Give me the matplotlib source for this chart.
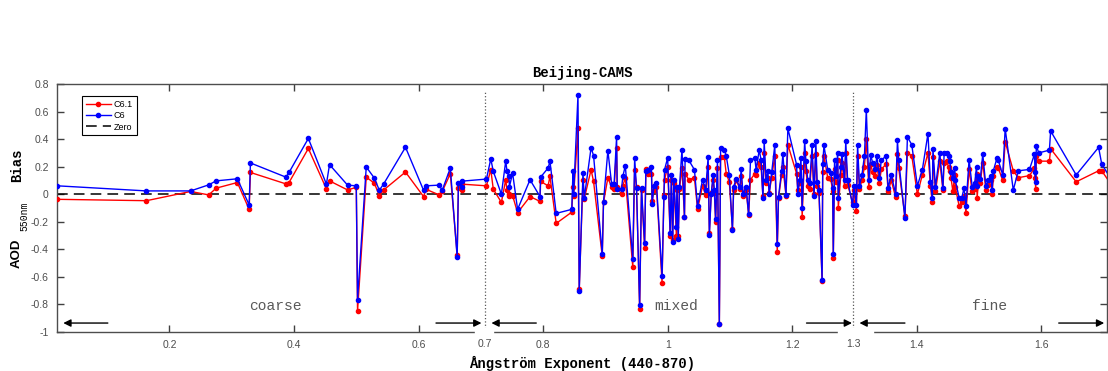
import numpy as np
import matplotlib
matplotlib.use("Agg")
import matplotlib.pyplot as plt
from matplotlib.patches import Rectangle

# Angstrom exponent (440-870) and AOD 550nm bias
ae = [0.020, 0.163, 0.234, 0.263, 0.275, 0.309, 0.328, 0.330, 0.387, 0.392,
      0.423, 0.452, 0.457, 0.486, 0.500, 0.502, 0.516, 0.529, 0.537, 0.544,
      0.579, 0.608, 0.612, 0.633, 0.638, 0.651, 0.662, 0.664, 0.669, 0.670,
      0.709, 0.716, 0.720, 0.733, 0.740, 0.742, 0.745, 0.746, 0.751, 0.759,
      0.779, 0.795, 0.796, 0.808, 0.811, 0.821, 0.846, 0.848, 0.849, 0.856,
      0.858, 0.864, 0.866, 0.877, 0.881, 0.895, 0.897, 0.904, 0.910, 0.914,
      0.918, 0.919, 0.926, 0.928, 0.932, 0.944, 0.947, 0.950, 0.955, 0.958,
      0.963, 0.965, 0.969, 0.974, 0.975, 0.978, 0.982, 0.991, 0.994, 0.995,
      1.000, 1.004, 1.006, 1.008, 1.010, 1.014, 1.015, 1.017, 1.019, 1.023,
      1.027, 1.028, 1.034, 1.043, 1.048, 1.056, 1.061, 1.065, 1.067, 1.070,
      1.073, 1.075, 1.077, 1.080, 1.083, 1.085, 1.091, 1.094, 1.099, 1.104,
      1.106, 1.110, 1.116, 1.118, 1.121, 1.126, 1.130, 1.133, 1.140, 1.142,
      1.147, 1.150, 1.153, 1.155, 1.158, 1.161, 1.163, 1.167, 1.172, 1.176,
      1.178, 1.183, 1.185, 1.190, 1.193, 1.207, 1.209, 1.212, 1.214, 1.216,
      1.220, 1.222, 1.225, 1.228, 1.232, 1.235, 1.238, 1.240, 1.243, 1.248,
      1.249, 1.251, 1.257, 1.262, 1.265, 1.266, 1.268, 1.270, 1.273, 1.274,
      1.278, 1.280, 1.284, 1.286, 1.289, 1.297, 1.299, 1.303, 1.305, 1.308,
      1.312, 1.316, 1.319, 1.323, 1.326, 1.329, 1.333, 1.336, 1.340, 1.343,
      1.351, 1.354, 1.359, 1.366, 1.369, 1.371, 1.381, 1.385, 1.392, 1.401,
      1.409, 1.418, 1.422, 1.425, 1.426, 1.430, 1.437, 1.442, 1.444, 1.448,
      1.451, 1.453, 1.455, 1.458, 1.461, 1.462, 1.468, 1.472, 1.476, 1.479,
      1.484, 1.489, 1.493, 1.496, 1.497, 1.499, 1.502, 1.506, 1.511, 1.515,
      1.519, 1.521, 1.523, 1.529, 1.531, 1.538, 1.542, 1.555, 1.563, 1.581,
      1.589, 1.590, 1.591, 1.592, 1.596, 1.613, 1.615, 1.656, 1.692, 1.697,
      1.720]

bias_c6 = [0.061, 0.024, 0.024, 0.068, 0.097, 0.112, -0.078, 0.227, 0.124, 0.158,
           0.405, 0.073, 0.215, 0.066, 0.061, -0.765, 0.198, 0.117, 0.029, 0.075,
           0.341, 0.029, 0.061, 0.066, 0.029, 0.190, -0.457, 0.080, 0.056, 0.095,
           0.110, 0.256, 0.166, 0.000, 0.242, 0.166, 0.129, 0.056, 0.154, -0.110,
           0.105, -0.017, 0.124, 0.190, 0.239, -0.139, -0.110, 0.166, 0.000, 0.720,
           -0.701, 0.154, -0.030, 0.337, 0.281, -0.432, -0.054, 0.317, 0.075, 0.075,
           0.415, 0.039, 0.039, 0.129, 0.207, -0.469, 0.264, 0.044, -0.806, 0.044,
           -0.354, 0.166, 0.178, 0.198, -0.073, 0.061, 0.080, -0.591, -0.017, 0.178,
           0.264, -0.281, 0.141, -0.347, 0.105, -0.237, 0.056, -0.322, 0.056, 0.324,
           -0.164, 0.259, 0.246, 0.178, -0.086, 0.105, 0.031, 0.270, -0.298, 0.005,
           0.141, 0.030, -0.183, 0.246, -0.945, 0.337, 0.324, 0.280, 0.141, -0.262,
           0.056, 0.110, 0.050, 0.183, 0.005, 0.050, -0.146, 0.246, 0.264, 0.178,
           0.320, 0.250, -0.030, 0.385, 0.105, 0.166, 0.000, 0.160, 0.354, -0.359,
           -0.017, 0.170, 0.290, -0.005, 0.478, 0.215, 0.005, 0.100, 0.264, -0.098,
           0.385, 0.240, 0.100, 0.080, 0.354, -0.010, 0.385, 0.090, 0.030, -0.623,
           0.220, 0.354, 0.178, 0.154, 0.044, -0.432, 0.250, 0.130, 0.300, -0.030,
           0.200, 0.290, 0.100, 0.385, 0.100, -0.080, 0.060, -0.080, 0.360, 0.060,
           0.140, 0.280, 0.612, 0.100, 0.285, 0.230, 0.180, 0.275, 0.120, 0.245,
           0.280, 0.044, 0.140, 0.005, 0.390, 0.245, -0.176, 0.415, 0.360, 0.060,
           0.178, 0.440, 0.090, -0.030, 0.330, 0.050, 0.300, 0.044, 0.300, 0.300,
           0.280, 0.240, 0.160, 0.120, 0.190, 0.100, -0.025, -0.030, 0.044, -0.088,
           0.250, 0.056, 0.080, 0.200, 0.060, 0.130, 0.110, 0.290, 0.060, 0.100,
           0.130, 0.030, 0.170, 0.265, 0.245, 0.140, 0.476, 0.030, 0.170, 0.180,
           0.290, 0.160, 0.090, 0.350, 0.300, 0.320, 0.459, 0.140, 0.340, 0.220,
           0.050]

bias_c61 = [-0.037, -0.047, 0.020, -0.005, 0.044, 0.085, -0.110, 0.158, 0.075, 0.085,
            0.332, 0.039, 0.097, 0.031, 0.050, -0.848, 0.124, 0.080, -0.010, 0.031,
            0.161, -0.017, 0.036, -0.005, 0.020, 0.149, -0.440, 0.045, 0.031, 0.073,
            0.061, 0.178, 0.036, -0.059, 0.105, 0.030, 0.000, -0.010, -0.010, -0.134,
            -0.017, -0.052, 0.093, 0.061, 0.129, -0.212, -0.130, 0.049, -0.010, 0.483,
            -0.690, 0.105, -0.035, 0.178, 0.093, -0.450, -0.060, 0.120, 0.050, 0.040,
            0.337, 0.050, -0.002, 0.061, 0.120, -0.530, 0.178, 0.050, -0.835, 0.030,
            -0.390, 0.180, 0.150, 0.150, -0.050, 0.030, 0.050, -0.642, -0.005, 0.105,
            0.200, -0.300, 0.105, -0.335, 0.080, -0.300, 0.030, -0.300, 0.040, 0.190,
            -0.164, 0.150, 0.105, 0.120, -0.110, 0.060, -0.005, 0.200, -0.280, 0.010,
            0.105, 0.010, -0.200, 0.190, -0.940, 0.270, 0.270, 0.150, 0.090, -0.250,
            0.030, 0.100, 0.040, 0.130, -0.010, 0.030, -0.150, 0.105, 0.150, 0.140,
            0.230, 0.200, -0.010, 0.300, 0.080, 0.120, 0.010, 0.120, 0.280, -0.420,
            -0.030, 0.140, 0.200, -0.010, 0.360, 0.150, 0.030, 0.080, 0.200, -0.164,
            0.300, 0.170, 0.060, 0.040, 0.280, 0.000, 0.290, 0.060, 0.010, -0.630,
            0.160, 0.280, 0.120, 0.110, 0.020, -0.460, 0.180, 0.090, 0.250, -0.100,
            0.140, 0.230, 0.060, 0.300, 0.070, -0.060, 0.030, -0.120, 0.280, 0.040,
            0.100, 0.200, 0.400, 0.050, 0.220, 0.160, 0.130, 0.210, 0.080, 0.180,
            0.220, 0.020, 0.100, -0.020, 0.290, 0.190, -0.160, 0.300, 0.280, 0.000,
            0.140, 0.300, 0.060, -0.060, 0.270, 0.020, 0.240, 0.030, 0.230, 0.240,
            0.200, 0.170, 0.120, 0.020, 0.140, 0.050, -0.085, -0.060, -0.010, -0.135,
            0.180, 0.020, 0.040, 0.150, -0.030, 0.100, 0.080, 0.230, 0.030, 0.070,
            0.100, 0.000, 0.130, 0.200, 0.190, 0.100, 0.380, 0.170, 0.120, 0.135,
            0.190, 0.120, 0.040, 0.280, 0.240, 0.240, 0.330, 0.090, 0.170, 0.170,
            0.020]

xticks = [0.2, 0.4, 0.6, 0.8, 1.0, 1.2, 1.4, 1.6]
yticks = [-1, -0.8, -0.6, -0.4, -0.2, 0, 0.2, 0.4, 0.6, 0.8]
bounds = [0.707, 1.298]
bound_labels = ["0.7", "1.3"]
regions = ["coarse", "mixed", "fine"]
region_x = [0.370, 1.013, 1.517]

mono = "Liberation Mono"
sans = "Liberation Sans"

fig = plt.figure(figsize=(11.08, 3.71), dpi=100)
ax = fig.add_axes([57 / 1108, 1 - 332 / 371, 1050 / 1108, 248 / 371])

ax.plot(ae, bias_c61, color="red", lw=1, marker="o", ms=3.0, label="C6.1", zorder=3)
ax.plot(ae, bias_c6, color="blue", lw=1, marker="o", ms=3.0, label="C6", zorder=4)
ax.axhline(0, color="k", ls=(0, (7, 4)), lw=1.1, label="Zero", zorder=2)

for b in bounds:
    ax.plot([b, b], [-1, 0.75], color="0.35", ls=":", lw=0.9, zorder=1)

ax.set_xlim(0.0194, 1.7055)
ax.set_ylim(-1, 0.8)
ax.set_xticks(xticks)
ax.set_yticks(yticks)
ax.xaxis.set_major_formatter(matplotlib.ticker.FormatStrFormatter("%g"))
ax.yaxis.set_major_formatter(matplotlib.ticker.FormatStrFormatter("%g"))
ax.tick_params(direction="in", length=5, width=1, color="0.25", top=True, right=True,
               labelsize=7.5, labelcolor="0.3", pad=6)
for lab in ax.get_xticklabels() + ax.get_yticklabels():
    lab.set_family(sans)
for s in ax.spines.values():
    s.set_color("0.3")
    s.set_linewidth(1)

# gaps in bottom axis for the boundary labels
trans = ax.get_xaxis_transform()
ax.add_patch(Rectangle((0.690, -0.02), 0.029, 0.035, transform=trans, color="white",
                       clip_on=False, zorder=6))
ax.add_patch(Rectangle((1.274, -0.02), 0.056, 0.035, transform=trans, color="white",
                       clip_on=False, zorder=6))
for b, lab in zip(bounds, bound_labels):
    ax.text(b, -0.03, lab, transform=trans, ha="center", va="top", fontsize=7.5,
            color="0.3", family=sans)

# region arrows and names
arrows = [(0.101, 0.0295), (0.628, 0.701), (0.789, 0.717),
          (1.223, 1.296), (1.381, 1.308), (1.628, 1.701)]
for x0, x1 in arrows:
    ax.annotate("", xy=(x1, -0.935), xytext=(x0, -0.935),
                arrowprops=dict(arrowstyle="-|>", color="k", lw=1, mutation_scale=11,
                                shrinkA=0, shrinkB=0), zorder=7)
for name, x in zip(regions, region_x):
    ax.text(x, -0.81, name, ha="center", va="center", fontsize=10.5, color="0.35",
            family=mono)

ax.set_title("Beijing-CAMS", fontsize=10, fontweight="bold", family=mono, pad=5)
ax.set_xlabel("Ångström Exponent (440-870)", fontsize=10, fontweight="bold",
              family=mono, labelpad=4)

# y label in three pieces
fig.text(17 / 1108, 1 - 253 / 371, "AOD", rotation=90, ha="center", va="center",
         fontsize=9.5, fontweight="bold", family=sans)
fig.text(24 / 1108, 1 - 216 / 371, "550nm", rotation=90, ha="center", va="center",
         fontsize=7, family=mono)
fig.text(17 / 1108, 1 - 165 / 371, "Bias", rotation=90, ha="center", va="center",
         fontsize=10, fontweight="bold", family=mono)

leg = ax.legend(loc="upper left", bbox_to_anchor=(0.024, 0.95), borderaxespad=0,
                numpoints=1, handlelength=2.8, handletextpad=0.3, labelspacing=0.25,
                borderpad=0.4, fancybox=False, framealpha=1, edgecolor="k",
                prop={"family": sans, "size": 6.5})
leg.get_frame().set_linewidth(0.8)
for line in leg.get_lines():
    line.set_markersize(3)

fig.savefig("out.png", dpi=100)
